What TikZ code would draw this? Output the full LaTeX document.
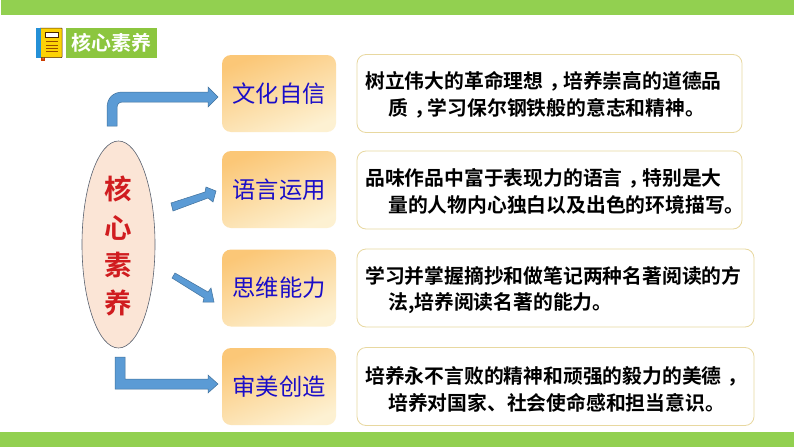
\documentclass[tikz,border=0pt]{standalone}
\usepackage{fontspec}
\setmainfont{Noto Sans CJK SC}
\newfontfamily\boldcjk{Noto Sans CJK SC Bold}
\newcommand{\midcomma}{\hspace{.32em}，\hspace{-.32em}}
\definecolor{barG}{HTML}{92D050}
\definecolor{titleG}{HTML}{8CC63F}
\definecolor{arrowB}{HTML}{5B9BD5}
\definecolor{arrowE}{HTML}{41719C}
\definecolor{labelB}{HTML}{1A0DC8}
\definecolor{coreR}{HTML}{D01C1F}
\definecolor{coreF}{HTML}{FBE5D6}
\definecolor{coreE}{HTML}{5A6270}
\definecolor{boxE}{HTML}{E8D8A0}
\definecolor{gradA}{HTML}{FBC777}
\definecolor{gradB}{HTML}{FDF1D2}
\tikzset{
  x=1pt,y=-1pt,
  blockarrow/.style={fill=arrowB,draw=arrowE,line width=.5pt,line join=miter},
  skillbox/.style={rounded corners=9pt,minimum width=114pt,minimum height=77pt,inner sep=0pt,
    top color=gradA,bottom color=gradB,shading angle=22,font=\fontsize{23.3pt}{26pt}\selectfont,text=labelB},
  notebox/.style={draw=boxE,fill=white,line width=.8pt,rounded corners=9pt,minimum height=78pt,inner sep=0pt},
  notetext/.style={anchor=west,inner sep=0pt,align=left,font=\boldcjk\fontsize{19.8pt}{26.7pt}\selectfont,text=black},
  coretext/.style={inner sep=0pt,font=\boldcjk\fontsize{27.5pt}{28pt}\selectfont,text=coreR},
}
\begin{document}
\begin{tikzpicture}
\useasboundingbox (0,0) rectangle (794,447);
\fill[white] (0,0) rectangle (794,447);
\fill[barG] (1,0) rectangle (794,15);
\fill[barG] (0,432) rectangle (794,447);
% book icon
\fill[orange!60!red!80!black] (41,57) rectangle (45,61);
\fill[white] (42.5,57) -- (43,59.5) -- (43.8,57) -- cycle;
\fill[yellow!70!orange,draw=black!70!orange,line width=.5pt,rounded corners=.6pt] (40,28) rectangle (62,57.5);
\fill[cyan!70!blue!90!white] (36,28) rectangle (41,57.5);
\fill[white,draw=black!70!orange,line width=.4pt] (45,32.5) rectangle (58,37);
\foreach \yy in {41,45,48.5,51.5}{\draw[orange!60!black,line width=.7pt] (46,\yy) -- (57.5,\yy);}
% title
\node[fill=titleG,text=white,minimum width=91pt,minimum height=30pt,inner sep=0pt,
  font=\boldcjk\fontsize{20pt}{22pt}\selectfont] (title) at (111.5,43) {核心素养};
% core ellipse
\draw[draw=coreE,fill=coreF,line width=.6pt] (118.5,244.5) ellipse [x radius=36.5,y radius=103.5];
\node[coretext] (c1) at (118.5,189) {核};
\node[coretext] (c2) at (118.5,228) {心};
\node[coretext] (c3) at (118.5,265) {素};
\node[coretext] (c4) at (118.5,303) {养};
% skill boxes
\node[skillbox] (s1) at (279,93.5) {文化自信};
\node[skillbox] (s2) at (279,189.5) {语言运用};
\node[skillbox] (s3) at (279,288) {思维能力};
\node[skillbox] (s4) at (279,386.5) {审美创造};
% note boxes
\node[notebox,minimum width=385pt] (n1) at (549.5,93.5) {};
\node[notebox,minimum width=385pt] (n2) at (549.5,190) {};
\node[notebox,minimum width=397pt] (n3) at (555.5,288) {};
\node[notebox,minimum width=397pt] (n4) at (555.5,386.5) {};
\node[notetext] (t1) at (365,95) {树立伟大的革命理想\midcomma 培养崇高的道德品\\\hspace*{23pt}质\midcomma 学习保尔钢铁般的意志和精神。};
\node[notetext] (t2) at (365,191.5) {品味作品中富于表现力的语言\midcomma 特别是大\\\hspace*{23pt}量的人物内心独白以及出色的环境描写。};
\node[notetext] (t3) at (365,290) {学习并掌握摘抄和做笔记两种名著阅读的方\\\hspace*{23pt}法,培养阅读名著的能力。};
\node[notetext] (t4) at (365,389) {培养永不言败的精神和顽强的毅力的美德\midcomma\\\hspace*{23pt}培养对国家、社会使命感和担当意识。};
% block arrows
\path[blockarrow] (107,126) -- (107,108) .. controls (107,98) and (113,92) .. (123,92) -- (208,92) -- (208,87) -- (218,97) -- (208,107) -- (208,102) -- (123,102) .. controls (119,102) and (117,104) .. (117,108) -- (117,126) -- cycle;
\path[blockarrow] (171,203) -- (205,192) -- (206,187) -- (216,191) -- (213,202) -- (208,198) -- (173,211) -- cycle;
\path[blockarrow] (175,273) -- (208,292) -- (211,288) -- (214,302) -- (203,302) -- (204,298) -- (172,278) -- cycle;
\path[blockarrow] (115,357) -- (125,357) -- (125,379) -- (208,379) -- (208,375) -- (218,384) -- (208,393) -- (208,389) -- (115,389) -- cycle;
\end{tikzpicture}
\end{document}
